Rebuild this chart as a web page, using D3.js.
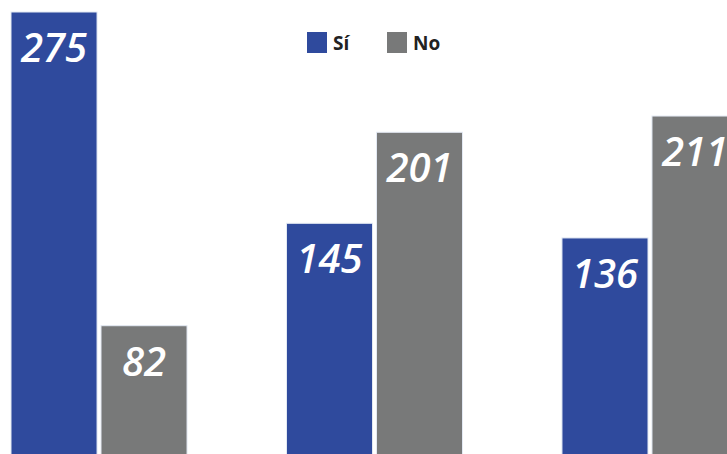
<!DOCTYPE html>
<html>
<head>
<meta charset="utf-8">
<script src="https://cdn.jsdelivr.net/npm/d3@7"></script>
<style>
  html, body { margin: 0; padding: 0; background: #fff; overflow: hidden; }
  .val { font-family: "Open Sans", sans-serif; font-style: italic; font-weight: 600; fill: #fff; }
  .leg { font-family: "Open Sans", sans-serif; font-weight: 700; fill: #222; }
</style>
</head>
<body>
<div id="chart"></div>
<script>
const width = 727, height = 454;

const groups = ["Grupo 1", "Grupo 2", "Grupo 3"];
const series = ["Sí", "No"];
const siValues = [275, 145, 136];
const noValues = [82, 201, 211];
const colors = ["#2f4a9d", "#787979"];

const data = groups.map((g, i) => ({ group: g, values: [siValues[i], noValues[i]] }));

const svg = d3.select("#chart")
    .append("svg")
    .attr("width", width)
    .attr("height", height);

const x0 = d3.scaleBand().domain(groups).range([11, 738]).paddingInner(0.361).paddingOuter(0);
const x1 = d3.scaleBand().domain(series).range([0, x0.bandwidth()]).paddingInner(0.044);
const yScale = d3.scaleLinear().domain([0, 275]).range([459, 12]);
const color = d3.scaleOrdinal().domain(series).range(colors);

const groupG = svg.selectAll("g.grp")
    .data(data)
    .join("g")
    .attr("class", "grp")
    .attr("transform", d => `translate(${x0(d.group)},0)`);

const bars = groupG.selectAll("g.bar")
    .data(d => d.values.map((v, j) => ({ key: series[j], value: v })))
    .join("g")
    .attr("class", "bar");

bars.append("rect")
    .attr("x", d => x1(d.key))
    .attr("y", d => yScale(d.value))
    .attr("width", x1.bandwidth())
    .attr("height", d => yScale(0) - yScale(d.value))
    .attr("fill", d => color(d.key))
    .attr("stroke", "#e4eaf4")
    .attr("stroke-width", 1);

// value labels inside the top of each bar
bars.append("text")
    .attr("class", "val")
    .attr("x", d => x1(d.key) + x1.bandwidth() / 2)
    .attr("y", d => yScale(d.value) + 50)
    .attr("text-anchor", "middle")
    .attr("font-size", 40)
    .text(d => d.value);

// legend
const legend = svg.append("g").attr("transform", "translate(307,32)");
const legX = [0, 80];
series.forEach((s, i) => {
    legend.append("rect")
        .attr("x", legX[i])
        .attr("y", 0)
        .attr("width", 20)
        .attr("height", 21)
        .attr("fill", color(s));
    legend.append("text")
        .attr("class", "leg")
        .attr("x", legX[i] + 26)
        .attr("y", 18)
        .attr("font-size", 19)
        .text(s);
});
</script>
</body>
</html>
